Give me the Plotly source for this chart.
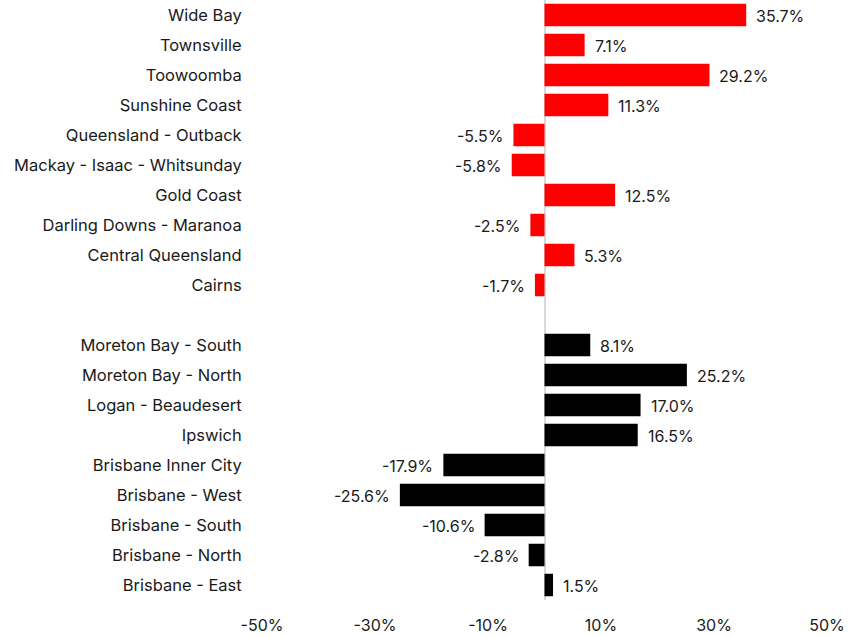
import plotly.graph_objects as go

regional_names = ["Wide Bay", "Townsville", "Toowoomba", "Sunshine Coast", "Queensland - Outback",
                  "Mackay - Isaac - Whitsunday", "Gold Coast", "Darling Downs - Maranoa",
                  "Central Queensland", "Cairns"]
regional_values = [35.7, 7.1, 29.2, 11.3, -5.5, -5.8, 12.5, -2.5, 5.3, -1.7]

metro_names = ["Moreton Bay - South", "Moreton Bay - North", "Logan - Beaudesert", "Ipswich",
               "Brisbane Inner City", "Brisbane - West", "Brisbane - South", "Brisbane - North",
               "Brisbane - East"]
metro_values = [8.1, 25.2, 17.0, 16.5, -17.9, -25.6, -10.6, -2.8, 1.5]

spacer = " "
x_ticks = [-50, -30, -10, 10, 30, 50]
x_tick_labels = ["-50%", "-30%", "-10%", "10%", "30%", "50%"]

FONT = "Inter, Roboto, sans-serif"
order = regional_names + [spacer] + metro_names

fig = go.Figure()
fig.add_trace(go.Bar(y=regional_names, x=regional_values, orientation="h",
                     marker=dict(color="#ff0000", line=dict(width=0)), width=0.75, showlegend=False))
fig.add_trace(go.Bar(y=metro_names, x=metro_values, orientation="h",
                     marker=dict(color="#000000", line=dict(width=0)), width=0.75, showlegend=False))

for names, vals in ((regional_names, regional_values), (metro_names, metro_values)):
    for n, v in zip(names, vals):
        fig.add_annotation(x=v, y=n, text=f"{v:.1f}%", showarrow=False,
                           xanchor="left" if v >= 0 else "right",
                           xshift=8 if v >= 0 else -8, yshift=-1,
                           font=dict(family=FONT, size=16, color="#1a1a1a"))

fig.update_layout(
    width=864, height=637,
    margin=dict(l=262, r=37, t=0, b=37),
    paper_bgcolor="white", plot_bgcolor="white",
    font=dict(family=FONT, size=16, color="#1a1a1a"),
    bargap=0.25,
)
fig.update_xaxes(range=[-50, 50], tickvals=x_ticks, ticktext=x_tick_labels,
                 showgrid=False, zeroline=True, zerolinecolor="#d9d9d9", zerolinewidth=2,
                 ticks="outside", ticklen=11, tickcolor="rgba(0,0,0,0)", showline=False,
                 tickfont=dict(family=FONT, size=16, color="#1a1a1a"))
fig.update_yaxes(categoryorder="array", categoryarray=order[::-1], type="category",
                 range=[-0.5, len(order) - 0.5],
                 showgrid=False, zeroline=False, showline=False,
                 ticks="outside", ticklen=16, tickcolor="rgba(0,0,0,0)",
                 tickfont=dict(family=FONT, size=16.5, color="#1a1a1a"))

fig.write_html("out.html", config={"displayModeBar": False},
               post_script="document.body.style.margin='0';document.body.style.padding='0';")
